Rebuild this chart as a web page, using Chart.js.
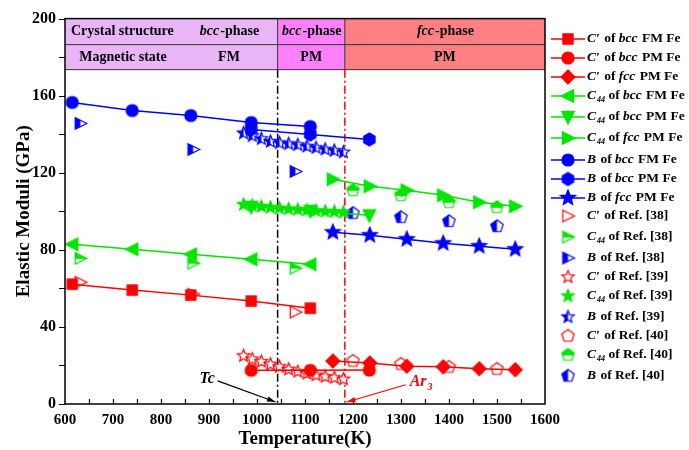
<!DOCTYPE html>
<html>
<head>
<meta charset="utf-8">
<script src="https://cdn.jsdelivr.net/npm/chart.js@4.4.1/dist/chart.umd.min.js"></script>
<style>
  html, body { margin: 0; padding: 0; background: #fff; }
  #wrap { width: 689px; height: 450px; }
</style>
</head>
<body>
<div id="wrap"><canvas id="moduli" width="689" height="450"></canvas></div>
<script>
// temperatures (K) of the computed points
const tempBccFM = [615, 740, 862, 988, 1111];
const tempBccPM = [988, 1111, 1234];
const tempFcc = [1158, 1235, 1312, 1388, 1463, 1538];

// computed moduli (GPa)
const cpBccFM = [62.2, 59.1, 56.5, 53.4, 49.7];
const cpBccPM = [17.5, 17.5, 17.6];
const cpFcc = [22.3, 21.3, 19.6, 19.3, 18.3, 17.8];
const c44BccFM = [82.9, 80.3, 77.7, 75.1, 72.5];
const c44BccPM = [102.3, 100.2, 97.9];
const c44Fcc = [116.6, 113.0, 110.9, 108.3, 104.7, 102.6];
const bBccFM = [156.5, 152.3, 149.7, 146.1, 144.0];
const bBccPM = [142.5, 139.9, 137.3];
const bFcc = [89.1, 87.6, 85.5, 83.4, 81.9, 80.3];

// reference data
const tempRef38 = [632, 867, 1080];
const cpRef38 = [63.2, 57.0, 47.7];
const c44Ref38 = [75.6, 73.1, 70.5];
const bRef38 = [145.6, 132.1, 120.7];
const tempRef39 = [972, 990, 1009, 1028, 1047, 1066, 1085, 1104, 1123, 1142, 1161, 1180];
const cpRef39 = [25.0, 23.3, 22.0, 20.6, 19.3, 18.0, 16.8, 15.8, 15.0, 14.2, 13.6, 12.9];
const c44Ref39 = [103.5, 103.0, 102.5, 102.0, 101.6, 101.2, 100.9, 100.6, 100.3, 100.0, 99.8, 99.5];
const bRef39 = [140.6, 139.2, 137.6, 136.2, 135.5, 135.0, 134.5, 133.7, 133.0, 132.2, 131.5, 130.7];
const tempRef40 = [1200, 1300, 1400, 1500];
const cpRef40 = [22.3, 20.7, 19.2, 18.1];
const c44Ref40 = [110.9, 108.3, 104.7, 102.1];
const bRef40 = [99.0, 96.9, 94.8, 92.2];

// axis ticks
const xTicks = [600, 700, 800, 900, 1000, 1100, 1200, 1300, 1400, 1500, 1600];
const yTicks = [0, 40, 80, 120, 160, 200];

// transition temperatures
const tCurie = 1043;
const tAr3 = 1183;

const RED = '#ff0000', GREEN = '#00e600', BLUE = '#0000ff';
const SERIF = '"Liberation Serif", "Times New Roman", serif';

function shapePath(ctx, shape, c, r) {
  ctx.beginPath();
  if (shape === 'circle') {
    ctx.arc(c, c, r, 0, Math.PI * 2);
  } else if (shape === 'rect') {
    ctx.rect(c - r * 0.85, c - r * 0.85, r * 1.7, r * 1.7);
  } else if (shape === 'diamond') {
    ctx.moveTo(c, c - r); ctx.lineTo(c + r, c); ctx.lineTo(c, c + r); ctx.lineTo(c - r, c);
  } else if (shape === 'triL') {
    ctx.moveTo(c - r, c); ctx.lineTo(c + r * 0.8, c - r * 0.9); ctx.lineTo(c + r * 0.8, c + r * 0.9);
  } else if (shape === 'triR') {
    ctx.moveTo(c + r, c); ctx.lineTo(c - r * 0.8, c - r * 0.9); ctx.lineTo(c - r * 0.8, c + r * 0.9);
  } else if (shape === 'triD') {
    ctx.moveTo(c, c + r); ctx.lineTo(c - r * 0.9, c - r * 0.8); ctx.lineTo(c + r * 0.9, c - r * 0.8);
  } else if (shape === 'star') {
    for (let i = 0; i < 10; i++) {
      const rr = i % 2 ? r * 0.45 : r;
      const a = -Math.PI / 2 + i * Math.PI / 5;
      const px = c + rr * Math.cos(a), py = c + rr * Math.sin(a);
      i ? ctx.lineTo(px, py) : ctx.moveTo(px, py);
    }
  } else {
    const n = shape === 'hex' ? 6 : 5;
    for (let i = 0; i < n; i++) {
      const a = -Math.PI / 2 + i * 2 * Math.PI / n;
      const px = c + r * Math.cos(a), py = c + r * Math.sin(a);
      i ? ctx.lineTo(px, py) : ctx.moveTo(px, py);
    }
  }
  ctx.closePath();
}

// marker sprite: fill is 'full', 'open', 'left' or 'top'
function marker(shape, color, fill, r) {
  const s = Math.ceil(r * 2 + 4);
  const cv = document.createElement('canvas');
  cv.width = s; cv.height = s;
  const ctx = cv.getContext('2d');
  const c = s / 2;
  shapePath(ctx, shape, c, r);
  ctx.fillStyle = fill === 'full' ? color : '#fff';
  ctx.fill();
  if (fill === 'left' || fill === 'top') {
    ctx.save();
    ctx.beginPath();
    if (fill === 'left') ctx.rect(0, 0, c, s); else ctx.rect(0, 0, s, c + 0.5);
    ctx.clip();
    shapePath(ctx, shape, c, r);
    ctx.fillStyle = color;
    ctx.fill();
    ctx.restore();
  }
  shapePath(ctx, shape, c, r);
  ctx.strokeStyle = color;
  ctx.lineWidth = 1.2;
  ctx.stroke();
  return cv;
}

function pts(xs, ys) { return xs.map((x, i) => ({ x: x, y: ys[i] })); }

function series(rich, xs, ys, color, sprite, line) {
  return {
    label: rich.map(p => p[0]).join(''),
    rich: rich,
    data: pts(xs, ys),
    borderColor: color,
    backgroundColor: color,
    borderWidth: 1.5,
    showLine: line,
    pointStyle: sprite,
    pointRadius: 6,
    pointHoverRadius: 6
  };
}

const I = 'i', B = 'b', S = 'sub';
const datasets = [
  series([['C\u2032', I], [' of ', B], ['bcc', I], [' FM Fe', B]], tempBccFM, cpBccFM, RED, marker('rect', RED, 'full', 6), true),
  series([['C\u2032', I], [' of ', B], ['bcc', I], [' PM Fe', B]], tempBccPM, cpBccPM, RED, marker('circle', RED, 'full', 6), true),
  series([['C\u2032', I], [' of ', B], ['fcc', I], [' PM Fe', B]], tempFcc, cpFcc, RED, marker('diamond', RED, 'full', 7), true),
  series([['C', I], ['44', S], [' of ', B], ['bcc', I], [' FM Fe', B]], tempBccFM, c44BccFM, GREEN, marker('triL', GREEN, 'full', 7), true),
  series([['C', I], ['44', S], [' of ', B], ['bcc', I], [' PM Fe', B]], tempBccPM, c44BccPM, GREEN, marker('triD', GREEN, 'full', 7), true),
  series([['C', I], ['44', S], [' of ', B], ['fcc', I], [' PM Fe', B]], tempFcc, c44Fcc, GREEN, marker('triR', GREEN, 'full', 7), true),
  series([['B', I], [' of ', B], ['bcc', I], [' FM Fe', B]], tempBccFM, bBccFM, BLUE, marker('circle', BLUE, 'full', 6), true),
  series([['B', I], [' of ', B], ['bcc', I], [' PM Fe', B]], tempBccPM, bBccPM, BLUE, marker('hex', BLUE, 'full', 6.5), true),
  series([['B', I], [' of ', B], ['fcc', I], [' PM Fe', B]], tempFcc, bFcc, BLUE, marker('star', BLUE, 'full', 8), true),
  series([['C\u2032', I], [' of Ref. [38]', B]], tempRef38, cpRef38, RED, marker('triR', RED, 'open', 6.5), false),
  series([['C', I], ['44', S], [' of Ref. [38]', B]], tempRef38, c44Ref38, GREEN, marker('triR', GREEN, 'top', 6.5), false),
  series([['B', I], [' of Ref. [38]', B]], tempRef38, bRef38, BLUE, marker('triR', BLUE, 'left', 6.5), false),
  series([['C\u2032', I], [' of Ref. [39]', B]], tempRef39, cpRef39, RED, marker('star', RED, 'open', 6.5), false),
  series([['C', I], ['44', S], [' of Ref. [39]', B]], tempRef39, c44Ref39, GREEN, marker('star', GREEN, 'full', 6.5), false),
  series([['B', I], [' of Ref. [39]', B]], tempRef39, bRef39, BLUE, marker('star', BLUE, 'left', 6.5), false),
  series([['C\u2032', I], [' of Ref. [40]', B]], tempRef40, cpRef40, RED, marker('pent', RED, 'open', 6.5), false),
  series([['C', I], ['44', S], [' of Ref. [40]', B]], tempRef40, c44Ref40, GREEN, marker('pent', GREEN, 'top', 6.5), false),
  series([['B', I], [' of Ref. [40]', B]], tempRef40, bRef40, BLUE, marker('pent', BLUE, 'left', 6.5), false)
];

function richText(ctx, x, y, parts, size, color, align) {
  const fontOf = st => st === I ? `italic bold ${size}px ${SERIF}`
    : st === S ? `italic bold ${Math.round(size * 0.62)}px ${SERIF}`
    : `bold ${size}px ${SERIF}`;
  let w = 0;
  parts.forEach(p => { ctx.font = fontOf(p[1]); w += ctx.measureText(p[0]).width; });
  let cx = align === 'center' ? x - w / 2 : x;
  ctx.fillStyle = color;
  ctx.textAlign = 'left';
  ctx.textBaseline = 'middle';
  parts.forEach(p => {
    ctx.font = fontOf(p[1]);
    ctx.fillText(p[0], cx, p[1] === S ? y + size * 0.32 : y);
    cx += ctx.measureText(p[0]).width + (p[1] === I ? 1 : 0);
  });
}

function arrow(ctx, x1, y1, x2, y2, color) {
  ctx.strokeStyle = color; ctx.fillStyle = color; ctx.lineWidth = 1.2;
  ctx.beginPath(); ctx.moveTo(x1, y1); ctx.lineTo(x2, y2); ctx.stroke();
  const a = Math.atan2(y2 - y1, x2 - x1);
  ctx.beginPath();
  ctx.moveTo(x2, y2);
  ctx.lineTo(x2 - 9 * Math.cos(a - 0.3), y2 - 9 * Math.sin(a - 0.3));
  ctx.lineTo(x2 - 9 * Math.cos(a + 0.3), y2 - 9 * Math.sin(a + 0.3));
  ctx.closePath(); ctx.fill();
}

const decor = {
  id: 'decor',
  beforeDatasetsDraw(chart) {
    const { ctx, chartArea: ca, scales: { x, y } } = chart;
    const c1 = x.getPixelForValue(tCurie), c2 = x.getPixelForValue(tAr3);
    const yMid = y.getPixelForValue(186.5), yBot = y.getPixelForValue(173.5);
    ctx.save();
    // phase table
    ctx.fillStyle = '#e9b5f6'; ctx.fillRect(ca.left, ca.top, c1 - ca.left, yBot - ca.top);
    ctx.fillStyle = '#ff80ff'; ctx.fillRect(c1, ca.top, c2 - c1, yBot - ca.top);
    ctx.fillStyle = '#ff8080'; ctx.fillRect(c2, ca.top, ca.right - c2, yBot - ca.top);
    ctx.strokeStyle = '#333'; ctx.lineWidth = 1;
    ctx.beginPath();
    ctx.moveTo(ca.left, yMid); ctx.lineTo(ca.right, yMid);
    ctx.moveTo(ca.left, yBot); ctx.lineTo(ca.right, yBot);
    ctx.moveTo(c1, ca.top); ctx.lineTo(c1, yBot);
    ctx.moveTo(c2, ca.top); ctx.lineTo(c2, yBot);
    ctx.stroke();
    const r1 = (ca.top + yMid) / 2, r2 = (yMid + yBot) / 2;
    richText(ctx, ca.left + 6, r1, [['Crystal structure', B]], 14, '#000', 'left');
    richText(ctx, 229, r1, [['bcc', I], ['-phase', B]], 14, '#000', 'center');
    richText(ctx, (c1 + c2) / 2, r1, [['bcc', I], ['-phase', B]], 14, '#000', 'center');
    richText(ctx, (c2 + ca.right) / 2, r1, [['fcc', I], ['-phase', B]], 14, '#000', 'center');
    richText(ctx, 123, r2, [['Magnetic state', B]], 14, '#000', 'center');
    richText(ctx, 229, r2, [['FM', B]], 14, '#000', 'center');
    richText(ctx, (c1 + c2) / 2, r2, [['PM', B]], 14, '#000', 'center');
    richText(ctx, (c2 + ca.right) / 2, r2, [['PM', B]], 14, '#000', 'center');
    // transition lines
    ctx.lineWidth = 1.5;
    ctx.setLineDash([8, 3, 2, 3]);
    ctx.strokeStyle = '#000';
    ctx.beginPath(); ctx.moveTo(c1, yBot); ctx.lineTo(c1, ca.bottom); ctx.stroke();
    ctx.strokeStyle = RED;
    ctx.beginPath(); ctx.moveTo(c2, yBot); ctx.lineTo(c2, ca.bottom); ctx.stroke();
    ctx.setLineDash([]);
    ctx.restore();
  },
  afterDraw(chart) {
    const { ctx, chartArea: ca, scales: { x, y } } = chart;
    ctx.save();
    // frame
    ctx.strokeStyle = '#000'; ctx.lineWidth = 1.5;
    ctx.strokeRect(ca.left, ca.top, ca.right - ca.left, ca.bottom - ca.top);
    // ticks: left outward every 20, bottom inward every 50
    ctx.lineWidth = 1.2;
    ctx.beginPath();
    for (let v = 0; v <= 200; v += 20) {
      const py = Math.round(y.getPixelForValue(v)) + 0.5;
      ctx.moveTo(ca.left - 6, py); ctx.lineTo(ca.left, py);
    }
    for (let t = 650; t < 1600; t += 50) {
      const px = Math.round(x.getPixelForValue(t)) + 0.5;
      ctx.moveTo(px, ca.bottom); ctx.lineTo(px, ca.bottom - 5);
    }
    ctx.stroke();
    // annotations
    richText(ctx, x.getPixelForValue(880), y.getPixelForValue(13), [['Tc', I]], 16, '#000', 'left');
    arrow(ctx, x.getPixelForValue(918), y.getPixelForValue(12), x.getPixelForValue(tCurie) - 2, ca.bottom - 2, '#000');
    richText(ctx, x.getPixelForValue(1318), y.getPixelForValue(11.5), [['Ar', I], ['3', S]], 16, RED, 'left');
    arrow(ctx, x.getPixelForValue(1310), y.getPixelForValue(10), x.getPixelForValue(tAr3) + 2, ca.bottom - 2, RED);
    // axis titles
    ctx.fillStyle = '#000';
    ctx.font = `bold 19px ${SERIF}`;
    ctx.textAlign = 'center'; ctx.textBaseline = 'middle';
    ctx.fillText('Temperature(K)', (ca.left + ca.right) / 2, 439);
    ctx.translate(24, (ca.top + ca.bottom) / 2);
    ctx.rotate(-Math.PI / 2);
    ctx.fillText('Elastic Moduli (GPa)', 0, 0);
    ctx.restore();
    // legend
    const rows = [39, 58, 77, 96, 117, 138, 160, 179, 198, 216, 237, 258, 277, 296, 317, 336, 355, 376];
    ctx.save();
    chart.data.datasets.forEach((ds, i) => {
      const ly = rows[i];
      if (ds.showLine) {
        ctx.strokeStyle = ds.borderColor; ctx.lineWidth = 1.5;
        ctx.beginPath(); ctx.moveTo(551, ly); ctx.lineTo(585, ly); ctx.stroke();
      }
      const sp = ds.pointStyle;
      ctx.drawImage(sp, 568 - sp.width / 2, ly - sp.height / 2);
      richText(ctx, 587, ly, ds.rich, 13.5, '#000', 'left');
    });
    ctx.restore();
  }
};

new Chart(document.getElementById('moduli'), {
  type: 'scatter',
  data: { datasets: datasets },
  options: {
    responsive: false,
    animation: false,
    events: [],
    layout: { autoPadding: false, padding: { top: 18, right: 144, left: 0, bottom: 0 } },
    plugins: { legend: { display: false }, tooltip: { enabled: false } },
    scales: {
      x: {
        type: 'linear', min: 600, max: 1600,
        afterFit: s => { s.height = 46; },
        afterBuildTicks: s => { s.ticks = xTicks.map(v => ({ value: v })); },
        grid: { display: false, drawTicks: false },
        border: { display: false },
        ticks: { color: '#000', padding: 7, maxRotation: 0, callback: v => String(v),
          font: { family: SERIF, size: 15, weight: 'bold' } }
      },
      y: {
        type: 'linear', min: 0, max: 200,
        afterFit: s => { s.width = 65; },
        afterBuildTicks: s => { s.ticks = yTicks.map(v => ({ value: v })); },
        grid: { display: false, drawTicks: false },
        border: { display: false },
        ticks: { color: '#000', padding: 9, callback: v => String(v),
          font: { family: SERIF, size: 16, weight: 'bold' } }
      }
    }
  },
  plugins: [decor]
});
</script>
</body>
</html>
